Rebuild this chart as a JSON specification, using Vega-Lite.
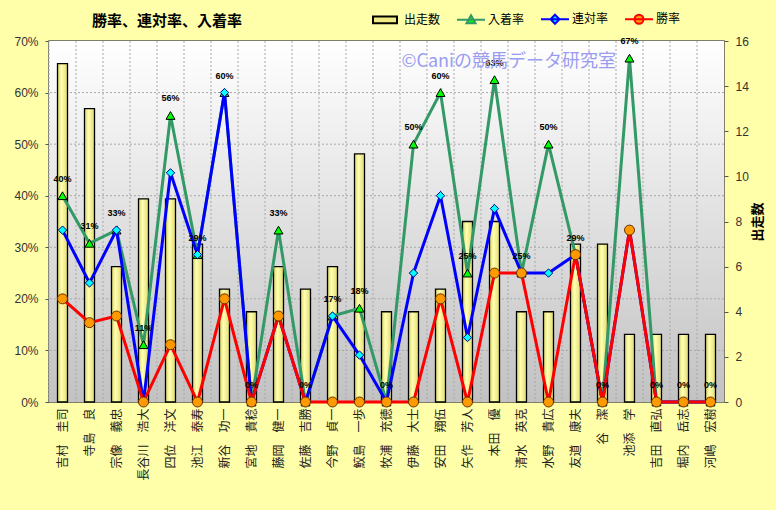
{
  "$schema": "https://vega.github.io/schema/vega-lite/v6.json",
  "width": 675,
  "height": 361,
  "autosize": {"type": "none"},
  "padding": {"left": 49, "top": 41, "right": 52, "bottom": 108},
  "background": "#FFFFAA",
  "title": {"text": "勝率、連対率、入着率", "anchor": "start", "frame": "group", "dx": 43, "offset": -16, "fontSize": 15, "fontWeight": "bold", "font": "Noto Sans CJK JP", "color": "#000000"},
  "config": {
    "view": {"stroke": "#555555", "strokeWidth": 1.5},
    "axis": {"domainColor": "#555555", "tickColor": "#555555"},
    "legend": {"orient": "none", "legendX": 321, "legendY": -28, "direction": "horizontal", "columnPadding": 12, "labelOffset": 22, "symbolSize": 36, "symbolStrokeWidth": 2, "labelFont": "Noto Sans CJK JP", "labelFontSize": 12, "labelColor": "#000000", "title": null}
  },
  "datasets": {
    "d": [
      {"name": "吉村　圭司", "runs": 15, "win": 0.2, "p2": 0.3333, "p3": 0.4},
      {"name": "寺島　良", "runs": 13, "win": 0.1538, "p2": 0.2308, "p3": 0.3077},
      {"name": "宗像　義忠", "runs": 6, "win": 0.1667, "p2": 0.3333, "p3": 0.3333},
      {"name": "長谷川　浩大", "runs": 9, "win": 0, "p2": 0, "p3": 0.1111},
      {"name": "四位　洋文", "runs": 9, "win": 0.1111, "p2": 0.4444, "p3": 0.5556},
      {"name": "池江　泰寿", "runs": 7, "win": 0, "p2": 0.2857, "p3": 0.2857},
      {"name": "新谷　功一", "runs": 5, "win": 0.2, "p2": 0.6, "p3": 0.6},
      {"name": "宮地　貴稔", "runs": 4, "win": 0, "p2": 0, "p3": 0},
      {"name": "藤岡　健一", "runs": 6, "win": 0.1667, "p2": 0.1667, "p3": 0.3333},
      {"name": "佐藤　吉勝", "runs": 5, "win": 0, "p2": 0, "p3": 0},
      {"name": "今野　貞一", "runs": 6, "win": 0, "p2": 0.1667, "p3": 0.1667},
      {"name": "鮫島　一歩", "runs": 11, "win": 0, "p2": 0.0909, "p3": 0.1818},
      {"name": "牧浦　充徳", "runs": 4, "win": 0, "p2": 0, "p3": 0},
      {"name": "伊藤　大士", "runs": 4, "win": 0, "p2": 0.25, "p3": 0.5},
      {"name": "安田　翔伍", "runs": 5, "win": 0.2, "p2": 0.4, "p3": 0.6},
      {"name": "矢作　芳人", "runs": 8, "win": 0, "p2": 0.125, "p3": 0.25},
      {"name": "本田　優", "runs": 8, "win": 0.25, "p2": 0.375, "p3": 0.625},
      {"name": "清水　英克", "runs": 4, "win": 0.25, "p2": 0.25, "p3": 0.25},
      {"name": "水野　貴広", "runs": 4, "win": 0, "p2": 0.25, "p3": 0.5},
      {"name": "友道　康夫", "runs": 7, "win": 0.2857, "p2": 0.2857, "p3": 0.2857},
      {"name": "谷　潔", "runs": 7, "win": 0, "p2": 0, "p3": 0},
      {"name": "池添　学", "runs": 3, "win": 0.3333, "p2": 0.3333, "p3": 0.6667},
      {"name": "吉田　直弘", "runs": 3, "win": 0, "p2": 0, "p3": 0},
      {"name": "堀内　岳志", "runs": 3, "win": 0, "p2": 0, "p3": 0},
      {"name": "河嶋　宏樹", "runs": 3, "win": 0, "p2": 0, "p3": 0}
    ]
  },
  "data": {"name": "d"},
  "encoding": {
    "x": {"field": "name", "type": "nominal", "sort": null, "scale": {"paddingInner": 0, "paddingOuter": 0},
      "axis": {"title": null, "labelAngle": -90, "ticks": false, "grid": false, "labelFont": "Noto Sans CJK JP", "labelFontSize": 12, "labelColor": "#222222", "labelPadding": 6, "domain": false}}
  },
  "layer": [
    {
      "data": {"values": [{"bg": 1}]},
      "mark": {"type": "rect", "fill": {"gradient": "linear", "x1": 0, "y1": 0, "x2": 0, "y2": 1, "stops": [{"offset": 0, "color": "#ffffff"}, {"offset": 1, "color": "#c2c2c2"}]}},
      "encoding": {"x": null}
    },
    {
      "mark": {"type": "rule", "color": "#a8a8a8", "strokeDash": [2, 2], "strokeWidth": 1},
      "encoding": {"x": {"field": "name", "type": "nominal", "sort": null, "bandPosition": 0, "scale": {"paddingInner": 0, "paddingOuter": 0},
        "axis": {"title": null, "labelAngle": -90, "ticks": false, "grid": false, "labelFont": "Noto Sans CJK JP", "labelFontSize": 12, "labelColor": "#222222", "labelPadding": 6, "domain": false}}}
    },
    {"data": {"values": [{"g": 1}]}, "mark": {"type": "rule", "color": "#a8a8a8", "strokeDash": [2, 2], "strokeWidth": 1}, "encoding": {"x": null, "y": {"datum": 0.1, "type": "quantitative", "scale": {"domain": [0, 0.7]}, "axis": null}}},
    {"data": {"values": [{"g": 1}]}, "mark": {"type": "rule", "color": "#a8a8a8", "strokeDash": [2, 2], "strokeWidth": 1}, "encoding": {"x": null, "y": {"datum": 0.2, "type": "quantitative", "scale": {"domain": [0, 0.7]}, "axis": null}}},
    {"data": {"values": [{"g": 1}]}, "mark": {"type": "rule", "color": "#a8a8a8", "strokeDash": [2, 2], "strokeWidth": 1}, "encoding": {"x": null, "y": {"datum": 0.3, "type": "quantitative", "scale": {"domain": [0, 0.7]}, "axis": null}}},
    {"data": {"values": [{"g": 1}]}, "mark": {"type": "rule", "color": "#a8a8a8", "strokeDash": [2, 2], "strokeWidth": 1}, "encoding": {"x": null, "y": {"datum": 0.4, "type": "quantitative", "scale": {"domain": [0, 0.7]}, "axis": null}}},
    {"data": {"values": [{"g": 1}]}, "mark": {"type": "rule", "color": "#a8a8a8", "strokeDash": [2, 2], "strokeWidth": 1}, "encoding": {"x": null, "y": {"datum": 0.5, "type": "quantitative", "scale": {"domain": [0, 0.7]}, "axis": null}}},
    {"data": {"values": [{"g": 1}]}, "mark": {"type": "rule", "color": "#a8a8a8", "strokeDash": [2, 2], "strokeWidth": 1}, "encoding": {"x": null, "y": {"datum": 0.6, "type": "quantitative", "scale": {"domain": [0, 0.7]}, "axis": null}}},
    {
      "mark": {"type": "bar", "width": 10, "stroke": "#000000", "strokeWidth": 1.3,
        "fill": {"gradient": "linear", "x1": 0, "y1": 0, "x2": 1, "y2": 0, "stops": [{"offset": 0, "color": "#d8d26a"}, {"offset": 0.4, "color": "#ffffb0"}, {"offset": 1, "color": "#e2da72"}]}},
      "encoding": {
        "y": {"field": "runs", "type": "quantitative", "scale": {"domain": [0, 16]},
          "axis": {"orient": "right", "values": [0, 2, 4, 6, 8, 10, 12, 14, 16], "grid": false, "title": "出走数", "titleAngle": 270, "titleFont": "Noto Sans CJK JP", "titleFontSize": 13, "titleFontWeight": "bold", "titleColor": "#000000", "titlePadding": 16, "labelFont": "Liberation Sans", "labelFontSize": 12, "labelColor": "#333333", "tickSize": 4, "labelPadding": 7, "domain": false}}
      }
    },
    {
      "layer": [
        {
          "mark": {"type": "line", "color": "#339966", "strokeWidth": 3},
          "encoding": {"y": {"field": "p3", "type": "quantitative", "scale": {"domain": [0, 0.7]},
            "axis": {"orient": "left", "values": [0, 0.1, 0.2, 0.3, 0.4, 0.5, 0.6, 0.7], "format": ".0%", "grid": false, "title": null, "labelFont": "Liberation Sans", "labelFontSize": 12, "labelColor": "#333333", "tickSize": 4, "labelPadding": 7, "domain": false}}}
        },
        {
          "mark": {"type": "point", "shape": "triangle-up", "filled": true, "fill": "#00FF00", "stroke": "#000000", "strokeWidth": 1, "size": 80, "opacity": 1},
          "encoding": {"y": {"field": "p3", "type": "quantitative", "scale": {"domain": [0, 0.7]},
            "axis": {"orient": "left", "values": [0, 0.1, 0.2, 0.3, 0.4, 0.5, 0.6, 0.7], "format": ".0%", "grid": false, "title": null, "labelFont": "Liberation Sans", "labelFontSize": 12, "labelColor": "#333333", "tickSize": 4, "labelPadding": 7, "domain": false}}}
        },
        {
          "mark": {"type": "line", "color": "#0000FF", "strokeWidth": 3},
          "encoding": {"y": {"field": "p2", "type": "quantitative", "scale": {"domain": [0, 0.7]},
            "axis": {"orient": "left", "values": [0, 0.1, 0.2, 0.3, 0.4, 0.5, 0.6, 0.7], "format": ".0%", "grid": false, "title": null, "labelFont": "Liberation Sans", "labelFontSize": 12, "labelColor": "#333333", "tickSize": 4, "labelPadding": 7, "domain": false}}}
        },
        {
          "mark": {"type": "point", "shape": "diamond", "filled": true, "fill": "#00FFFF", "stroke": "#000080", "strokeWidth": 1, "size": 70, "opacity": 1},
          "encoding": {"y": {"field": "p2", "type": "quantitative", "scale": {"domain": [0, 0.7]},
            "axis": {"orient": "left", "values": [0, 0.1, 0.2, 0.3, 0.4, 0.5, 0.6, 0.7], "format": ".0%", "grid": false, "title": null, "labelFont": "Liberation Sans", "labelFontSize": 12, "labelColor": "#333333", "tickSize": 4, "labelPadding": 7, "domain": false}}}
        },
        {
          "mark": {"type": "line", "color": "#FF0000", "strokeWidth": 3},
          "encoding": {"y": {"field": "win", "type": "quantitative", "scale": {"domain": [0, 0.7]},
            "axis": {"orient": "left", "values": [0, 0.1, 0.2, 0.3, 0.4, 0.5, 0.6, 0.7], "format": ".0%", "grid": false, "title": null, "labelFont": "Liberation Sans", "labelFontSize": 12, "labelColor": "#333333", "tickSize": 4, "labelPadding": 7, "domain": false}}}
        },
        {
          "mark": {"type": "point", "shape": "circle", "filled": true, "fill": "#FF9900", "stroke": "#663300", "strokeWidth": 1, "size": 100, "opacity": 1},
          "encoding": {"y": {"field": "win", "type": "quantitative", "scale": {"domain": [0, 0.7]},
            "axis": {"orient": "left", "values": [0, 0.1, 0.2, 0.3, 0.4, 0.5, 0.6, 0.7], "format": ".0%", "grid": false, "title": null, "labelFont": "Liberation Sans", "labelFontSize": 12, "labelColor": "#333333", "tickSize": 4, "labelPadding": 7, "domain": false}}}
        },
        {
          "mark": {"type": "text", "dy": -17, "fontSize": 9, "fontWeight": "bold", "font": "Liberation Sans", "color": "#000000"},
          "encoding": {"y": {"field": "p3", "type": "quantitative", "scale": {"domain": [0, 0.7]},
            "axis": {"orient": "left", "values": [0, 0.1, 0.2, 0.3, 0.4, 0.5, 0.6, 0.7], "format": ".0%", "grid": false, "title": null, "labelFont": "Liberation Sans", "labelFontSize": 12, "labelColor": "#333333", "tickSize": 4, "labelPadding": 7, "domain": false}},
            "text": {"field": "p3", "type": "quantitative", "format": ".0%"}}
        },
        {
          "data": {"values": [{"t": "©Caniの競馬データ研究室"}]},
          "mark": {"type": "text", "align": "left", "baseline": "middle", "dx": 15, "fontSize": 18, "font": "Noto Sans CJK JP", "color": "#9a9cf2"},
          "encoding": {"x": {"datum": "牧浦　充徳"}, "y": {"datum": 0.66, "type": "quantitative", "scale": {"domain": [0, 0.7]},
            "axis": {"orient": "left", "values": [0, 0.1, 0.2, 0.3, 0.4, 0.5, 0.6, 0.7], "format": ".0%", "grid": false, "title": null, "labelFont": "Liberation Sans", "labelFontSize": 12, "labelColor": "#333333", "tickSize": 4, "labelPadding": 7, "domain": false}}, "text": {"field": "t"}}
        }
      ]
    },
    {
      "data": {"values": [{"leg": "出走数"}, {"leg": "入着率"}, {"leg": "連対率"}, {"leg": "勝率"}]},
      "transform": [{"filter": "false"}],
      "mark": {"type": "point", "filled": true, "opacity": 1},
      "encoding": {
        "x": null,
        "fill": {"field": "leg", "type": "nominal", "scale": {"domain": ["出走数", "入着率", "連対率", "勝率"], "range": ["#F2EC84", "#00FF00", "#00FFFF", "#FF9900"]}},
        "stroke": {"field": "leg", "type": "nominal", "scale": {"domain": ["出走数", "入着率", "連対率", "勝率"], "range": ["#000000", "#339966", "#0000FF", "#FF0000"]}},
        "shape": {"field": "leg", "type": "nominal", "scale": {"domain": ["出走数", "入着率", "連対率", "勝率"], "range": ["M-1,-1.1H7V1.1H-1Z", "M-1,0H8.33M3.67,-1.5L5.17,1.1H2.17Z", "M-1,0H8.33M3.67,-1.5L5.17,0L3.67,1.5L2.17,0Z", "M-1,0H8.33M5.17,0A1.5,1.5 0 1,1 2.17,0A1.5,1.5 0 1,1 5.17,0Z"]}}
      }
    }
  ],
  "resolve": {"scale": {"y": "independent"}}
}
